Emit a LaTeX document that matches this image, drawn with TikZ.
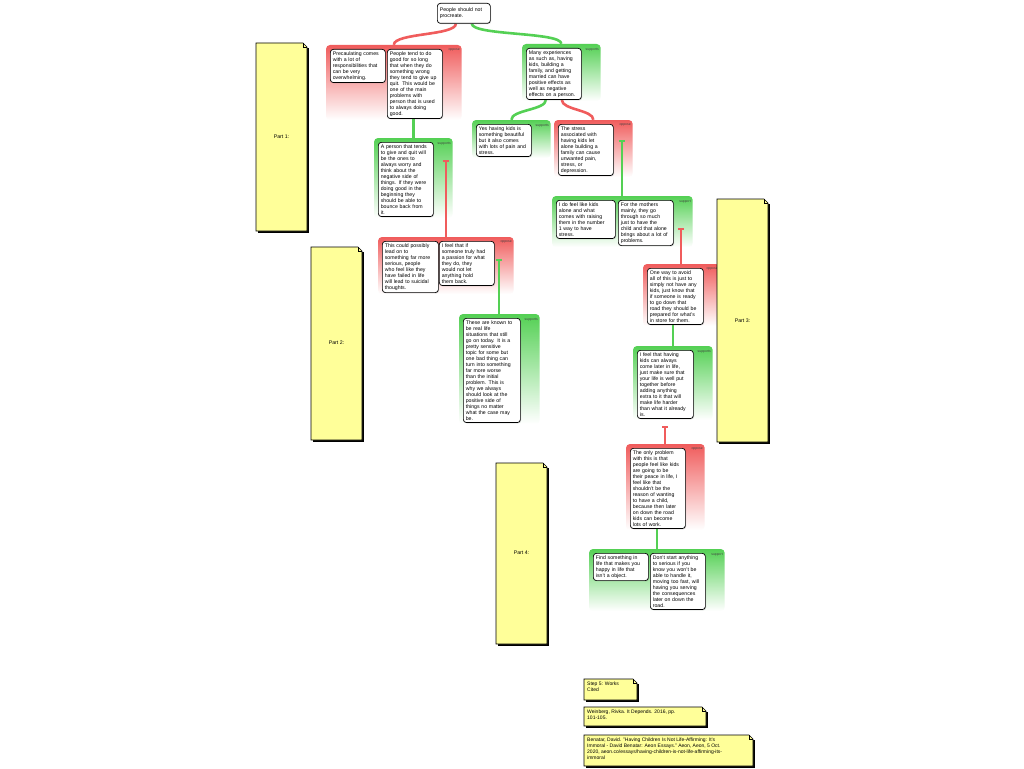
\documentclass[tikz,border=0pt]{standalone}
\usepackage{fontspec}
\setmainfont{Liberation Sans}
\usetikzlibrary{positioning,fit,shadows,backgrounds,arrows.meta}

\definecolor{oppred}{RGB}{240,92,92}
\definecolor{supgreen}{RGB}{84,208,84}
\definecolor{noteyellow}{RGB}{255,255,153}

% sticky note sheet: x1, y1, x2, y2 (pixel units, y downwards)
\newcommand{\stickysheet}[4]{%
  \fill[black] (#1+1.6,#2+5) rectangle (#3+1.6,#4+1.6);
  \filldraw[fill=noteyellow,draw=black,line width=0.6pt] (#1,#2) -- (#3-4,#2) -- (#3,#2+4) -- (#3,#4) -- (#1,#4) -- cycle;
  \draw[line width=0.5pt] (#3-4,#2) -- (#3-4,#2+4) -- (#3,#2+4);
}

\begin{document}
\begin{tikzpicture}[x=1pt,y=-1pt,
    argbox/.style={draw=black, line width=0.7pt, fill=white, rounded corners=3pt,
      align=left, text width=50pt, inner xsep=2.5pt, inner ysep=2.2pt,
      font=\fontsize{5.2}{6}\selectfont, anchor=north west,
      drop shadow={shadow xshift=0.8pt, shadow yshift=-0.8pt, opacity=0.3}},
    grp/.style={inner sep=0pt, rounded corners=4pt, draw=none},
    oppgrp/.style={grp, top color=oppred, middle color=oppred!70, bottom color=white},
    supgrp/.style={grp, top color=supgreen, middle color=supgreen!70, bottom color=white},
    grplbl/.style={font=\fontsize{3.4}{4}\selectfont, text=black!75, inner sep=0pt, anchor=north east},
    oppline/.style={draw=oppred, line width=2.6pt},
    supline/.style={draw=supgreen, line width=2.6pt},
    oppbar/.style={draw=oppred, line width=2pt, {Bar[width=6pt]}-},
    supbar/.style={draw=supgreen, line width=2pt, {Bar[width=6pt]}-},
    notetext/.style={font=\fontsize{5}{6}\selectfont, align=left, inner sep=0pt, anchor=north west},
    parttext/.style={font=\fontsize{5.2}{6}\selectfont, inner sep=0pt}]

\useasboundingbox (0,0) rectangle (1024,768);

% Claim
\node[argbox, text width=48pt, minimum height=20pt] (claim) at (437,3) {People should not\\procreate.};

% First level
\node[argbox] (precaul) at (330,49) {Precaulating comes\\with a lot of\\responsibilities that\\can be very\\overwhelming.};
\node[argbox] (tendgood) at (387,49) {People tend to do\\good for so long\\that when they do\\something wrong\\they tend to give up\\quit. This would be\\one of the main\\problems with\\person that is used\\to always doing\\good.};
\node[argbox] (experiences) at (526,48) {Many experiences\\as such as, having\\kids, building a\\family, and getting\\married can have\\positive effects as\\well as negative\\effects on a person.};

% Second level
\node[argbox] (beautiful) at (476,124) {Yes having kids is\\something beautiful\\but it also comes\\with lots of pain and\\stress.};
\node[argbox] (stress) at (558,124) {The stress\\associated with\\having kids let\\alone building a\\family can cause\\unwanted pain,\\stress, or\\depression.};
\node[argbox] (giveup) at (378,142) {A person that tends\\to give and quit will\\be the ones to\\always worry and\\think about the\\negative side of\\things. If they were\\doing good in the\\beginning they\\should be able to\\bounce back from\\it.};

% Third level
\node[argbox, text width=54pt] (raising) at (556,200) {I do feel like kids\\alone and what\\comes with raising\\them in the number\\1 way to have\\stress.};
\node[argbox] (mothers) at (618,200) {For the mothers\\mainly, they go\\through so much\\just to have the\\child and that alone\\brings about a lot of\\problems.};
\node[argbox, text width=51pt] (suicidal) at (382,241) {This could possibly\\lead on to\\something far more\\serious, people\\who feel like they\\have failed in life\\will lead to suicidal\\thoughts.};
\node[argbox] (passion) at (439,241) {I feel that if\\someone truly had\\a passion for what\\they do, they\\would not let\\anything hold\\them back.};
\node[argbox, text width=52pt] (reallife) at (463,318) {These are known to\\be real life\\situations that still\\go on today. It is a\\pretty sensitive\\topic for some but\\one bad thing can\\turn into something\\far more worse\\than the initial\\problem. This is\\why we always\\should look at the\\positive side of\\things no matter\\what the case may\\be.};

% Right chain
\node[argbox, text width=51pt] (avoid) at (647,268) {One way to avoid\\all of this is just to\\simply not have any\\kids, just know that\\if someone is ready\\to go down that\\road they should be\\prepared for what's\\in store for them.};
\node[argbox, text width=51pt] (later) at (637,350) {I feel that having\\kids can always\\come later in life,\\just make sure that\\your life is well put\\together before\\adding anything\\extra to it that will\\make life harder\\than what it already\\is.};
\node[argbox] (peace) at (630,448) {The only problem\\with this is that\\people feel like kids\\are going to be\\their peace in life, I\\feel like that\\shouldn't be the\\reason of wanting\\to have a child,\\because then later\\on down the road\\kids can become\\lots of work.};
\node[argbox] (happy) at (593,553) {Find something in\\life that makes you\\happy in life that\\isn't a object.};
\node[argbox] (tooserious) at (650,553) {Don't start anything\\to serious if you\\know you won't be\\able to handle it,\\moving too fast, will\\having you serving\\the consequences\\later on down the\\road.};

\begin{scope}[on background layer]
  \fill[white] (0,0) rectangle (1024,768);
  % Groups
  \node[oppgrp, fit={([shift={(-4pt,4pt)}]precaul.north west) ([shift={(19pt,-1pt)}]tendgood.south east)}] (gprecaul) {};
  \node[supgrp, fit={([shift={(-4pt,4pt)}]experiences.north west) ([shift={(19pt,-1pt)}]experiences.south east)}] (gexper) {};
  \node[supgrp, fit={([shift={(-4pt,4pt)}]beautiful.north west) ([shift={(19pt,-1pt)}]beautiful.south east)}] (gbeaut) {};
  \node[oppgrp, fit={([shift={(-4pt,4pt)}]stress.north west) ([shift={(19pt,-1pt)}]stress.south east)}] (gstress) {};
  \node[supgrp, fit={([shift={(-4pt,4pt)}]giveup.north west) ([shift={(19pt,-1pt)}]giveup.south east)}] (ggiveup) {};
  \node[supgrp, fit={([shift={(-4pt,4pt)}]raising.north west) ([shift={(19pt,-1pt)}]mothers.south east)}] (gmothers) {};
  \node[oppgrp, fit={([shift={(-4pt,4pt)}]suicidal.north west) ([shift={(19pt,0pt)}]passion.east) ([yshift=-1pt]suicidal.south)}] (gsuicid) {};
  \node[supgrp, fit={([shift={(-4pt,4pt)}]reallife.north west) ([shift={(19pt,-1pt)}]reallife.south east)}] (greal) {};
  \node[oppgrp, fit={([shift={(-4pt,4pt)}]avoid.north west) ([shift={(16pt,-1pt)}]avoid.south east)}] (gavoid) {};
  \node[supgrp, fit={([shift={(-4pt,4pt)}]later.north west) ([shift={(19pt,-1pt)}]later.south east)}] (glater) {};
  \node[oppgrp, fit={([shift={(-4pt,4pt)}]peace.north west) ([shift={(19pt,-1pt)}]peace.south east)}] (gpeace) {};
  \node[supgrp, fit={([shift={(-4pt,4pt)}]happy.north west) ([shift={(19pt,-1pt)}]tooserious.south east)}] (ghappy) {};

  % Group labels
  \node[grplbl] (lprecaul) at ([shift={(-2pt,-4pt)}]gprecaul.north east) {oppose};
  \node[grplbl] (lexper) at ([shift={(-2pt,-4pt)}]gexper.north east) {supports};
  \node[grplbl] (lbeaut) at ([shift={(-2pt,-4pt)}]gbeaut.north east) {supports};
  \node[grplbl] (lstress) at ([shift={(-2pt,-4pt)}]gstress.north east) {oppose};
  \node[grplbl] (lgiveup) at ([shift={(-2pt,-4pt)}]ggiveup.north east) {supports};
  \node[grplbl] (lmothers) at ([shift={(-2pt,-4pt)}]gmothers.north east) {support};
  \node[grplbl] (lsuicid) at ([shift={(-2pt,-4pt)}]gsuicid.north east) {oppose};
  \node[grplbl] (lreal) at ([shift={(-2pt,-4pt)}]greal.north east) {supports};
  \node[grplbl] (lavoid) at ([shift={(-2pt,-4pt)}]gavoid.north east) {oppose};
  \node[grplbl] (llater) at ([shift={(-2pt,-4pt)}]glater.north east) {supports};
  \node[grplbl] (lpeace) at ([shift={(-2pt,-4pt)}]gpeace.north east) {oppose};
  \node[grplbl] (lhappy) at ([shift={(-2pt,-4pt)}]ghappy.north east) {support};

  % Connectors
  \draw[oppline] ([xshift=-8pt]claim.south) .. controls +(0,12) and +(0,-12) .. (gprecaul.north);
  \draw[supline] ([xshift=8pt]claim.south) .. controls +(0,12) and +(0,-12) .. (gexper.north);
  \draw[supline] ([xshift=-8pt]experiences.south) .. controls +(0,10) and +(0,-10) .. (gbeaut.north);
  \draw[oppline] ([xshift=8pt]experiences.south) .. controls +(0,10) and +(0,-10) .. (gstress.north);
  \draw[supline] (ggiveup.north |- tendgood.south) -- (ggiveup.north);
  \draw[supbar] (gmothers.north |- 0,140) -- (gmothers.north);
  \draw[oppbar] (gsuicid.north |- 0,160) -- (gsuicid.north);
  \draw[supbar] (greal.north |- 0,259) -- (greal.north);
  \draw[oppbar] (gavoid.north |- 0,228) -- (gavoid.north);
  \draw[supline] (glater.north |- avoid.south) -- (glater.north);
  \draw[oppbar] (gpeace.north |- 0,426) -- (gpeace.north);
  \draw[supline] (ghappy.north |- peace.south) -- (ghappy.north);
\end{scope}

% Part notes
\stickysheet{256}{43}{307}{231}
\node[parttext] (part1) at (281.5,137) {Part 1:};
\stickysheet{311}{247}{362}{440}
\node[parttext] (part2) at (336.5,343) {Part 2:};
\stickysheet{717}{199}{768}{442}
\node[parttext] (part3) at (742.5,321) {Part 3:};
\stickysheet{496}{463}{547}{644}
\node[parttext] (part4) at (521.5,553) {Part 4:};

% Works cited
\stickysheet{584}{679}{637}{700}
\node[notetext] (step5) at (587,681.5) {Step 5: Works\\Cited};
\stickysheet{584}{707}{706}{726}
\node[notetext] (weinberg) at (587,709.5) {Weinberg, Rivka. It Depends. 2016, pp.\\101-105.};
\stickysheet{584}{735}{753}{766}
\node[notetext] (benatar) at (587,737.5) {Benatar, David. "Having Children Is Not Life-Affirming: It's\\Immoral - David Benatar: Aeon Essays." Aeon, Aeon, 5 Oct.\\2020, aeon.co/essays/having-children-is-not-life-affirming-its-\\immoral};
\end{tikzpicture}
\end{document}
